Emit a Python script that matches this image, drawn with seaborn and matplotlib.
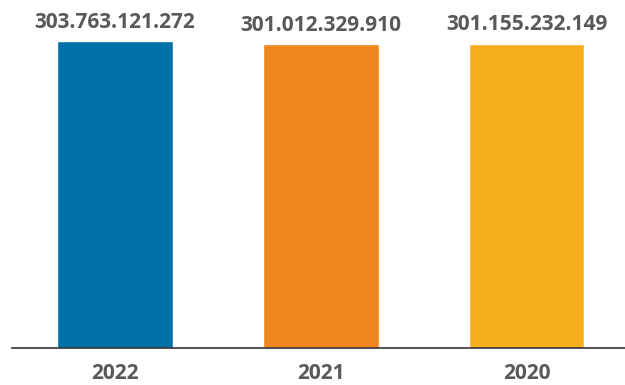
import matplotlib
matplotlib.use("Agg")
import matplotlib.pyplot as plt
import seaborn as sns
import pandas as pd

years = ["2022", "2021", "2020"]
values = [303763121272, 301012329910, 301155232149]
labels = ["303.763.121.272", "301.012.329.910", "301.155.232.149"]
colors = ["#0070A8", "#F08620", "#F7AE1C"]

sns.set_theme(style="white")
plt.rcParams["font.family"] = ["Open Sans", "DejaVu Sans"]

df = pd.DataFrame({"year": years, "value": values})

fig = plt.figure(figsize=(6.25, 3.85), dpi=100)
ax = fig.add_axes([12 / 625, 37 / 385, 1 - 12 / 625, 1 - 37 / 385])

sns.barplot(data=df, x="year", y="value", hue="year", palette=colors,
            order=years, hue_order=years, width=0.56, legend=False,
            saturation=1, ax=ax)

ax.set_xlim(-0.5, 2.477)
ax.set_ylim(0, 344.3e9)

for i, (v, lab) in enumerate(zip(values, labels)):
    ax.annotate(lab, (i, v), xytext=(0, 9.5), textcoords="offset points",
                ha="center", va="baseline", fontsize=15, fontweight="bold",
                color="#58595B")

ax.set_xlabel("")
ax.set_ylabel("")
ax.set_yticks([])
ax.tick_params(axis="x", length=0, pad=11, labelsize=15, labelcolor="#58595B")
for t in ax.get_xticklabels():
    t.set_fontweight("bold")
for s in ["top", "right", "left"]:
    ax.spines[s].set_visible(False)
ax.spines["bottom"].set_color("#333333")
ax.spines["bottom"].set_linewidth(1.2)

fig.savefig("out.png", dpi=100)
